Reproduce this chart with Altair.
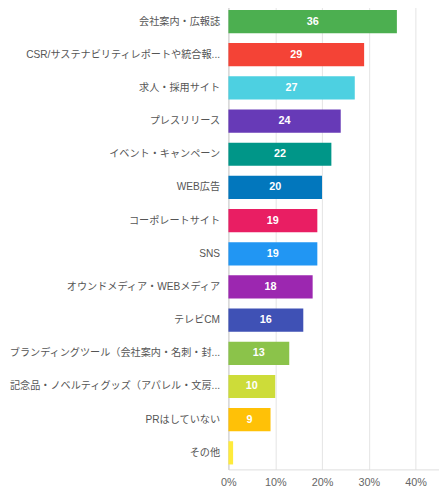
import altair as alt
import pandas as pd

categories = [
    "会社案内・広報誌",
    "CSR/サステナビリティレポートや統合報...",
    "求人・採用サイト",
    "プレスリリース",
    "イベント・キャンペーン",
    "WEB広告",
    "コーポレートサイト",
    "SNS",
    "オウンドメディア・WEBメディア",
    "テレビCM",
    "ブランディングツール（会社案内・名刺・封...",
    "記念品・ノベルティグッズ（アパレル・文房...",
    "PRはしていない",
    "その他",
]
values = [36, 29, 27, 24, 22, 20, 19, 19, 18, 16, 13, 10, 9, 1]
colors = [
    "#4caf50", "#f44336", "#4dd0e1", "#673ab7", "#009688", "#0277bd",
    "#e91e63", "#2196f3", "#9c27b0", "#3f51b5", "#8bc34a", "#cddc39",
    "#ffc107", "#ffeb3b",
]
x_ticks = [0, 10, 20, 30, 40]

df = pd.DataFrame({"cat": categories, "val": values, "color": colors})
df["label"] = [str(v) if v >= 5 else "" for v in values]

FONT = "Liberation Sans, Noto Sans CJK JP, sans-serif"

y_enc = alt.Y(
    "cat:N",
    sort=categories,
    title=None,
    scale=alt.Scale(paddingInner=0.3, paddingOuter=0.15),
    axis=alt.Axis(
        labelFont=FONT, labelFontSize=10.3, labelColor="#555555",
        labelLimit=220, labelPadding=9, ticks=False, domain=True,
        domainColor="#cccccc", minExtent=222, maxExtent=222, grid=False,
    ),
)
x_enc = alt.X(
    "val:Q",
    title=None,
    scale=alt.Scale(domain=[0, 45], nice=False),
    axis=alt.Axis(
        values=x_ticks, labelExpr="datum.value + '%'", labelFont=FONT,
        labelFontSize=11, labelColor="#666666", ticks=False, labelFlush=False,
        domainColor="#dddddd", gridColor="#e3e3e3", labelPadding=7,
    ),
)

bars = alt.Chart(df).mark_bar().encode(
    y=y_enc, x=x_enc, color=alt.Color("color:N", scale=None)
)
text = alt.Chart(df).mark_text(
    color="white", fontWeight="bold", fontSize=11, font=FONT
).encode(
    y=alt.Y("cat:N", sort=categories),
    x=alt.X("mid:Q"),
    text="label:N",
).transform_calculate(mid="datum.val / 2")

chart = (bars + text).properties(
    width=214, height=472, padding={"left": 0, "top": -7, "right": 0, "bottom": 0}
).configure_view(stroke=None)

chart.save("out.html", embed_options={"renderer": "svg", "actions": False})
